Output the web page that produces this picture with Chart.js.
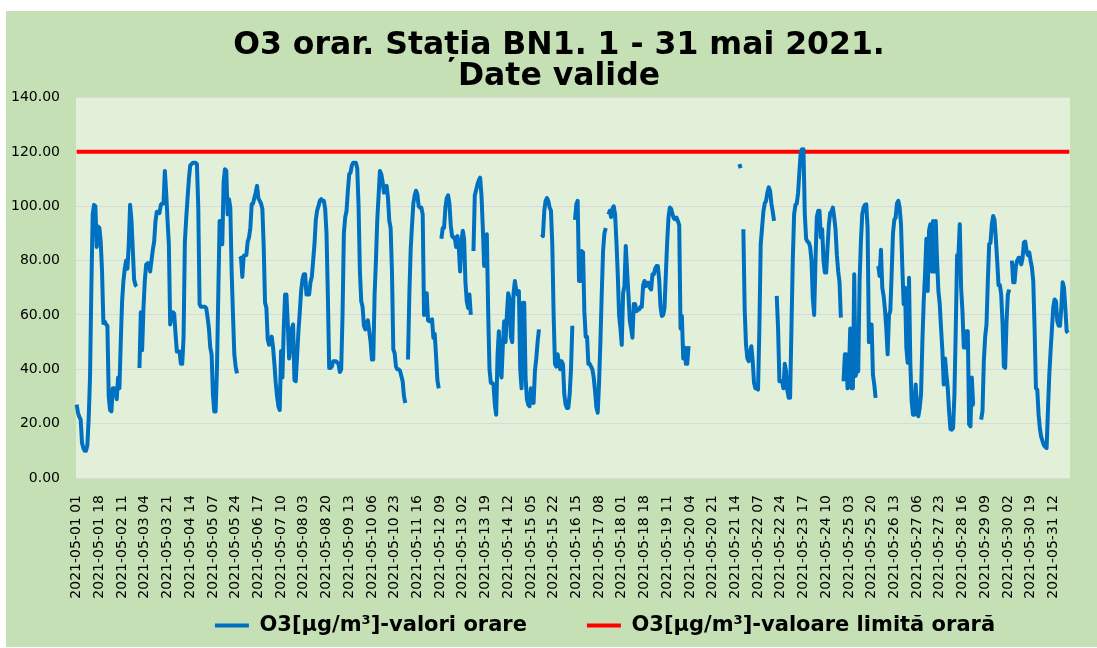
<!DOCTYPE html>
<html>
<head>
<meta charset="utf-8">
<title>O3 orar BN1 mai 2021</title>
<script src="https://cdn.jsdelivr.net/npm/chart.js@4.4.1/dist/chart.umd.min.js"></script>
<style>
  html, body { margin: 0; padding: 0; background: #fff; }
  #wrap { width: 1097px; height: 648px; }
</style>
</head>
<body>
<div id="wrap"><canvas id="o3Chart" width="1097" height="648"></canvas></div>
<script>
// Hourly O3 values (µg/m³), one row per day (hours 01..24)
const o3May01to07 = [
  27, 24, 22.5, 21.5, 13, 11, 10, 10, 12, 22, 37, 70, 97, 100.5, 100, 85, 92.5, 92, 87, 76, 57, 57.5, 56.5, 56,
  30, 25, 24.5, 33, 33, 32, 29, 37, 33, 50, 65, 72.5, 77, 80, 77, 86, 100.5, 95, 84, 73, 71, 70.5, null, 40.5,
  61, 47, 62.5, 72.5, 78.5, 79, 79, 76, 80, 84, 87, 94.5, 98, 98, 97.5, 100.5, 101, 101, 113, 105, 95, 86, 56.5, 60,
  61, 60.5, 53, 46.5, 46.5, 46.5, 42, 42, 51.5, 87, 95.5, 103, 110, 115, 115.5, 116, 116, 116, 115.5, 100, 64, 63, 63, 63,
  63, 62.5, 59, 55, 48, 45.5, 30.7, 24.5, 24.5, 40, 67.5, 94.6, 94.6, 86, 109, 113.6, 113, 97, 102.6, 99.5, 76, 60, 45.5, 41,
  38.5, null, 80.5, 81, 74, 81.7, 82, 82, 87, 88.5, 92, 100.7, 101, 103, 105, 107.5, 103, 102, 101, 99, 85, 64.5, 62.6, 51,
  49, 51, 52, 48, 42, 35, 30, 26.4, 25, 46.7, 37, 55, 67.5, 67.5, 57, 44, 48, 55, 56.5, 36, 35.6, 45, 54, 61
];
const o3May08to14 = [
  68.8, 73, 75, 75, 67.5, 67.5, 67.5, 72, 74, 80, 86, 95, 98.5, 100, 102, 102.6, 102, 102, 99, 90, 67.5, 40.5, 40.5, 41,
  43, 43, 43, 42.5, 42, 39, 40, 60, 90, 96, 98.3, 105.7, 111.8, 112.4, 115, 116, 116, 116, 114, 100, 76, 65, 63, 56,
  54.7, 57, 58, 54, 50, 43.6, 43.6, 67.5, 80, 95, 104, 113, 111.8, 109, 105, 106, 107.5, 103, 94.6, 92, 76, 47.3, 46, 41,
  40, 40, 39.5, 37.5, 35.6, 30, 27.6, null, 43.6, 67.5, 84, 93, 101, 104, 105.7, 104.4, 100, 99.5, 99.5, 97, 60, 62, 68, 58,
  57.7, 58, 58.4, 51.6, 53, 45, 36, 33, null, 88, 92, 92, 99.5, 103, 104, 101, 93, 89, 88.5, 88.5, 85, 89, 85, 76,
  87, 91, 88, 72, 65, 62.6, 67.5, 60, null, 83.5, 104, 106, 108, 109.5, 110.5, 104, 92, 78, 85, 89.7, 61.4, 40, 35, 35,
  34.4, 27, 23.3, 45, 54, 40, 37, 49, 57.7, 50, 60, 68, 66, 52, 50, 68, 72.5, 69, 67.5, 68.8, 40, 33, 64.5, 64.5
];
const o3May15to21 = [
  37, 29, 27, 26.4, 33, 30, 27.6, 39.3, 44, 50, 54.7, null, 89.7, 89, 98.3, 102, 103, 102, 99.5, 98.3, 86, 60, 42, 41,
  45.5, 42, 40, 43, 41.8, 30.7, 27, 25.8, 25.8, 30.7, 40, 56, null, 95, 100.7, 102, 72.5, 72.5, 83.5, 83, 61.4, 52, 52, 42,
  42, 41, 40, 37, 32, 26, 24, 35, 50, 67.5, 83.5, 90, 92, null, 97, 98.3, 96, 99, 100, 97, 87, 75, 60, 55,
  49, 68, 70.6, 85.4, 76, 67.5, 58, 55, 51.6, 64, 64, 61.4, 62, 62, 63, 63, 71, 72.5, 70.6, 71.8, 71.8, 70, 69.4, 75,
  75, 77, 78, 78, 73, 63, 59.6, 60, 62.6, 75, 87, 96, 99.5, 99, 97, 95.5, 95.2, 95.8, 94.6, 93, 55, 59.6, 44, 48,
  42, 42, 48.5, null, null, null, null, null, null, null, null, null, null, null, null, null, null, null, null, null, null, null, null,
  null, null, null, null, null, null, null, null, null, null, null, null, null, null, null, null, null, 115.5, 114, null, 91.5, 62, 49, 44
];
const o3May22to31 = [
  43, 46, 48.5, 43, 35, 33, 33, 32.5, 55, 86, 92, 98, 101, 102, 105, 107, 105.7, 101, 98, 94.6, null, 67, 55, 35.6,
  35.6, 35.6, 33, 42, 39.3, 32, 29.5, 29.5, 55, 80, 97, 100.5, 101, 105, 113, 120, 121, 121, 97, 88, 87, 86.6, 85, 80,
  66, 60, 80, 96, 98.3, 98.3, 88.5, 91.5, 80, 75.6, 75.6, 84.8, 93, 97.5, 98, 99.5, 96, 91.5, 82, 76, 72, 59, null, 35.6,
  45.5, 45.5, 33, 38, 55, 33, 33, 75, 37.5, 39.3, 39.3, 72.5, 87, 97, 99.5, 100.5, 100.7, 92, 50, 56.5, 56.5, 38, 34.4, 29.5,
  null, 78, 74.3, 84, 70, 67, 62, 55, 45.5, 60, 61.4, 75, 90, 95, 95.8, 101, 102, 99.5, 93.4, 77.4, 64, 70, 48, 42.4,
  73.7, 42, 28, 23.3, 23.3, 34.4, 25.8, 22.7, 25.8, 30.7, 50, 65, 75, 88, 68.8, 91, 93.4, 76, 94.6, 76, 94.6, 80, 68.8, 64,
  55, 46.7, 34.4, 44, 38, 33, 24.6, 18, 17.8, 18.4, 30.7, 55, 82, 82, 93.4, 70, 61.4, 48, 48, 54, 54, 19.7, 19, 37,
  27, 27, null, null, null, null, 21.5, 24.6, 43, 52, 56.5, 72.5, 86, 86.6, 93.4, 96.4, 95, 88, 80, 71, 71, 67.5, 57, 41,
  40.5, 57.7, 67.5, 69.4, null, 80, 72, 72, 78, 80, 81, 81, 78.6, 81, 86.6, 87, 83.5, 82, 83, 80, 77.4, 72.5, 55, 33,
  32.5, 23.3, 18, 15, 13.5, 12, 11.5, 11, 25, 38, 47, 55, 63, 65.7, 65, 57.7, 56, 56, 62.6, 72, 70, 62.6, 54, 53.4
];

const limitValue = 120;          // valoare limita orara
const yTicks = [0, 20, 40, 60, 80, 100, 120, 140];
const labelStep = 17;            // Excel shows every 17th category
const titleLines = ['O3 orar. Stația BN1. 1 - 31 mai 2021.', 'Date valide'];
const seriesNames = ['O3[µg/m³]-valori orare', 'O3[µg/m³]-valoare limită orară'];

// categories: 2021-05-01 01 ... 2021-05-31 24
const categories = [];
for (let d = 1; d <= 31; d++) {
    for (let h = 1; h <= 24; h++) {
        categories.push('2021-05-' + String(d).padStart(2, '0') + ' ' + String(h).padStart(2, '0'));
    }
}

const o3Hourly = [].concat(o3May01to07, o3May08to14, o3May15to21, o3May22to31);
const limitLine = categories.map(() => limitValue);

const FONT = "'DejaVu Sans', 'Liberation Sans', Arial, sans-serif";

// white page with the green chart frame and the light plot area
const chartBackground = {
    id: 'chartBackground',
    beforeDraw(chart) {
        const { ctx, chartArea } = chart;
        ctx.save();
        ctx.fillStyle = '#ffffff';
        ctx.fillRect(0, 0, chart.width, chart.height);
        ctx.fillStyle = '#c5e0b4';
        ctx.fillRect(6, 11, chart.width - 6, chart.height - 12);
        ctx.fillStyle = '#e2f0d9';
        ctx.fillRect(chartArea.left, chartArea.top, chartArea.right - chartArea.left, chartArea.bottom - chartArea.top);
        ctx.restore();
    }
};

// title and legend are not centred on the same point in the original;
// the legend also uses a wide item gap, so pull its top back up by that gap
// (bottom stays, the legend clips its drawing to its own box)
const shiftBlocks = {
    id: 'shiftBlocks',
    afterLayout(chart) {
        chart.titleBlock.left += 24;
        chart.titleBlock.right += 24;
        chart.legend.left += 70;
        chart.legend.right += 70;
        chart.legend.top -= 50;
    }
};

const ctx = document.getElementById('o3Chart').getContext('2d');
const o3Chart = new Chart(ctx, {
    type: 'line',
    data: {
        labels: categories,
        datasets: [{
            label: seriesNames[0],
            data: o3Hourly,
            borderColor: '#0070c0',
            backgroundColor: '#0070c0',
            borderWidth: 4,
            pointRadius: 0,
            tension: 0,
            spanGaps: false,
            borderJoinStyle: 'round'
        }, {
            label: seriesNames[1],
            data: limitLine,
            borderColor: '#ff0000',
            backgroundColor: '#ff0000',
            borderWidth: 4,
            pointRadius: 0,
            tension: 0
        }]
    },
    options: {
        responsive: false,
        animation: false,
        events: [],
        layout: {
            padding: { top: 11, right: 27, bottom: 2, left: 0 }
        },
        plugins: {
            title: {
                display: true,
                text: titleLines,
                color: '#000',
                font: { family: FONT, size: 31.5, weight: 'bold', lineHeight: 0.97 },
                padding: { top: 20, bottom: 5.4 }
            },
            legend: {
                position: 'bottom',
                maxHeight: 41,
                labels: {
                    usePointStyle: true,
                    pointStyle: 'line',
                    pointStyleWidth: 34,
                    padding: 60,
                    color: '#000',
                    font: { family: FONT, size: 21, weight: 'bold' }
                }
            },
            tooltip: { enabled: false }
        },
        scales: {
            x: {
                offset: true,
                grid: { display: false },
                border: { display: false },
                ticks: {
                    autoSkip: false,
                    minRotation: 90,
                    maxRotation: 90,
                    padding: 9,
                    color: '#000',
                    font: { family: FONT, size: 14 },
                    callback: function(value, index) {
                        return index % labelStep === 0 ? this.getLabelForValue(value) : null;
                    }
                },
                afterFit: function(scale) {
                    scale.height = 127;
                }
            },
            y: {
                min: yTicks[0],
                max: yTicks[yTicks.length - 1],
                afterBuildTicks: function(scale) {
                    scale.ticks = yTicks.map(v => ({ value: v }));
                },
                grid: { color: '#d9d9d9', lineWidth: 1, drawTicks: false },
                border: { display: false },
                ticks: {
                    padding: 16,
                    color: '#000',
                    font: { family: FONT, size: 14 },
                    callback: v => Number(v).toFixed(2)
                },
                afterFit: function(scale) {
                    scale.width = 76;
                }
            }
        }
    },
    plugins: [chartBackground, shiftBlocks]
});
</script>
</body>
</html>
